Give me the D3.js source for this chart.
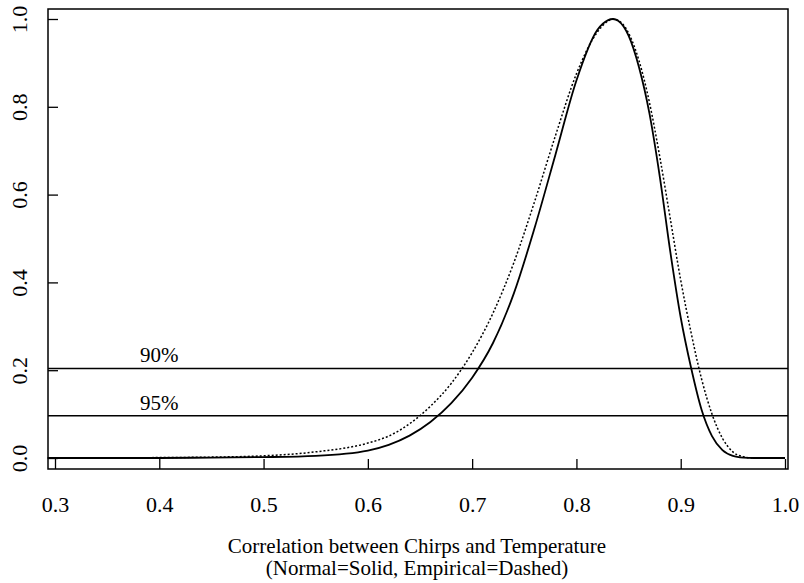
<!DOCTYPE html>
<html>
<head>
<meta charset="utf-8">
<script src="https://cdn.jsdelivr.net/npm/d3@7"></script>
<style>
    body { margin: 0; background: #fff; }
    svg text { font-family: "Liberation Serif", "Times New Roman", serif; fill: #000; }
</style>
</head>
<body>
<div id="chart"></div>
<script>
//Datos
let correlacion = [0.293, 0.35, 0.40, 0.45, 0.50, 0.55, 0.60, 0.62, 0.64, 0.66, 0.68, 0.70, 0.72, 0.74, 0.76, 0.78, 0.80, 0.82, 0.83, 0.835, 0.84, 0.85, 0.86, 0.87, 0.88, 0.89, 0.90, 0.91, 0.92, 0.93, 0.94, 0.95, 0.96, 0.97, 1.00];
let normal = [0, 0, 0, 0.001, 0.002, 0.005, 0.017, 0.030, 0.051, 0.082, 0.125, 0.183, 0.262, 0.375, 0.525, 0.692, 0.860, 0.975, 0.997, 1.000, 0.996, 0.962, 0.890, 0.785, 0.640, 0.470, 0.320, 0.205, 0.110, 0.050, 0.018, 0.005, 0.001, 0, 0];
let empirica = [0, 0, 0.001, 0.002, 0.005, 0.014, 0.034, 0.050, 0.078, 0.118, 0.170, 0.240, 0.330, 0.445, 0.585, 0.735, 0.875, 0.970, 0.995, 1.000, 0.997, 0.968, 0.905, 0.810, 0.685, 0.545, 0.405, 0.285, 0.180, 0.100, 0.045, 0.014, 0.003, 0, 0];
let niveles = [{etiqueta: '90%', valor: 0.204}, {etiqueta: '95%', valor: 0.096}];
let xTicks = [0.3, 0.4, 0.5, 0.6, 0.7, 0.8, 0.9, 1.0];
let yTicks = [0.0, 0.2, 0.4, 0.6, 0.8, 1.0];
let tituloX = ['Correlation between Chirps and Temperature', '(Normal=Solid, Empirical=Dashed)'];

let width = 804, height = 583;
let marco = {left: 48, right: 788, top: 9, bottom: 469};

let svg = d3.select('#chart').append('svg')
    .attr('width', width)
    .attr('height', height);

let x = d3.scaleLinear().domain([0.3, 1.0]).range([55, 785]);
let y = d3.scaleLinear().domain([0, 1]).range([458, 19]);

//Ejes con ticks hacia dentro
svg.append('g')
    .attr('transform', 'translate(0,' + marco.bottom + ')')
    .call(d3.axisBottom(x).tickValues(xTicks).tickFormat(d3.format('.1f')).tickSize(-10).tickPadding(27))
    .call(g => g.select('.domain').remove())
    .call(g => g.selectAll('line').attr('stroke', '#000').attr('stroke-width', 1.3))
    .call(g => g.selectAll('text').attr('font-size', 22).attr('font-family', null));

svg.append('g')
    .attr('transform', 'translate(' + marco.left + ',0)')
    .call(d3.axisLeft(y).tickValues(yTicks).tickFormat(d3.format('.1f')).tickSize(-10))
    .call(g => g.select('.domain').remove())
    .call(g => g.selectAll('line').attr('stroke', '#000').attr('stroke-width', 1.3))
    .call(g => g.selectAll('text')
        .attr('font-size', 22)
        .attr('font-family', null)
        .attr('x', null)
        .attr('dy', null)
        .attr('text-anchor', 'middle')
        .attr('transform', 'translate(-21,0) rotate(-90)'));

//Marco
svg.append('rect')
    .attr('x', marco.left)
    .attr('y', marco.top)
    .attr('width', marco.right - marco.left)
    .attr('height', marco.bottom - marco.top)
    .attr('fill', 'none')
    .attr('stroke', '#000')
    .attr('stroke-width', 1.5);

//Lineas de nivel
svg.selectAll('.nivel')
    .data(niveles)
    .enter()
    .append('line')
    .attr('class', 'nivel')
    .attr('x1', marco.left)
    .attr('x2', marco.right)
    .attr('y1', d => y(d.valor))
    .attr('y2', d => y(d.valor))
    .attr('stroke', '#000')
    .attr('stroke-width', 1.5);

svg.selectAll('.etiqueta')
    .data(niveles)
    .enter()
    .append('text')
    .attr('class', 'etiqueta')
    .attr('x', x(0.4))
    .attr('y', d => y(d.valor) - 6)
    .attr('text-anchor', 'middle')
    .attr('font-size', 21)
    .text(d => d.etiqueta);

//Curvas
let linea = (serie) => d3.line()
    .x((d, i) => x(correlacion[i]))
    .y(d => y(d))
    .curve(d3.curveMonotoneX)(serie);

svg.append('path')
    .attr('d', linea(empirica))
    .attr('fill', 'none')
    .attr('stroke', '#000')
    .attr('stroke-width', 1.5)
    .attr('stroke-dasharray', '2,2');

svg.append('path')
    .attr('d', linea(normal))
    .attr('fill', 'none')
    .attr('stroke', '#000')
    .attr('stroke-width', 1.8);

//Titulo del eje x
svg.selectAll('.titulo')
    .data(tituloX)
    .enter()
    .append('text')
    .attr('class', 'titulo')
    .attr('x', 417)
    .attr('y', (d, i) => 553 + i * 22)
    .attr('text-anchor', 'middle')
    .attr('font-size', 21)
    .text(d => d);
</script>
</body>
</html>
